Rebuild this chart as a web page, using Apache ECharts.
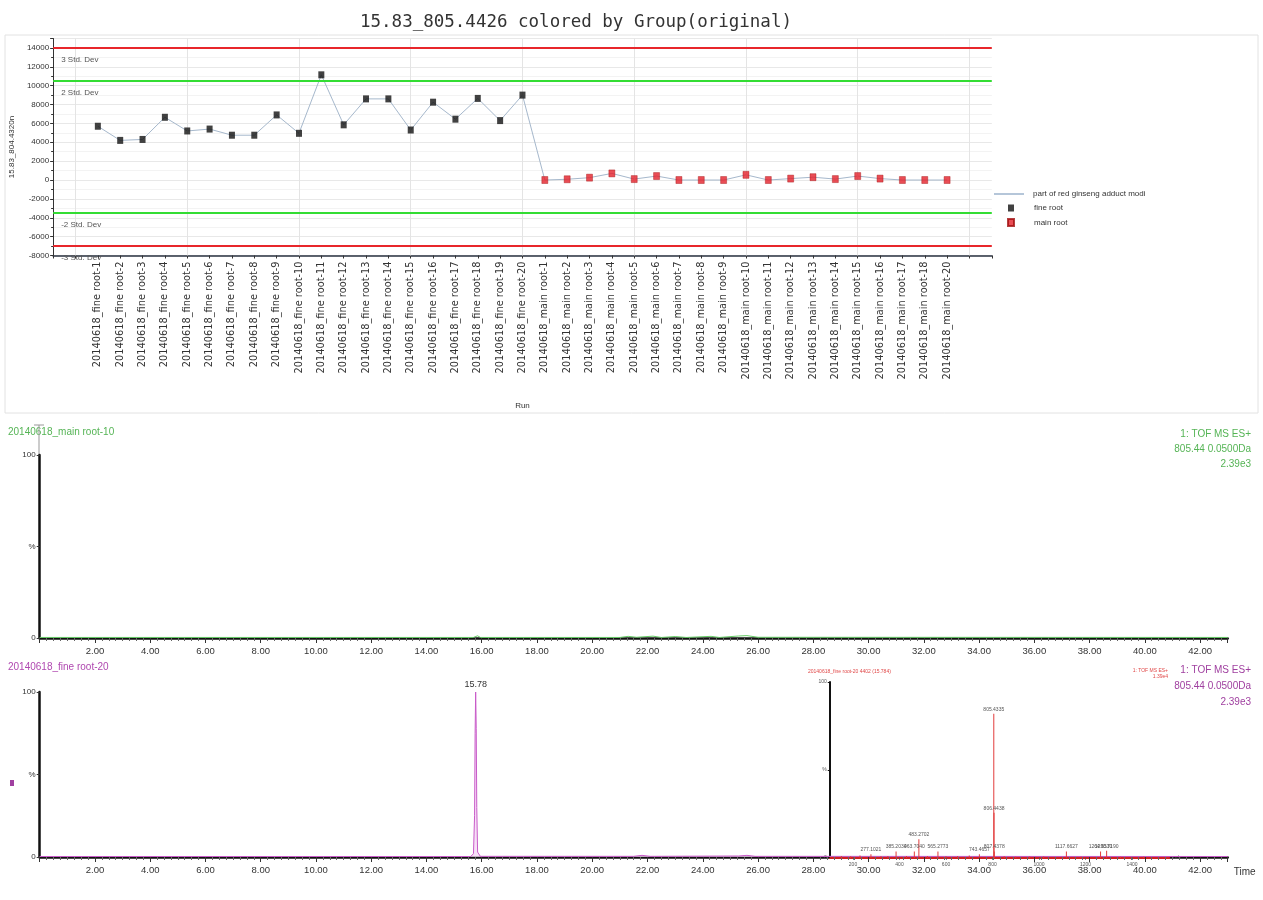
<!DOCTYPE html>
<html><head><meta charset="utf-8">
<script src="https://cdn.jsdelivr.net/npm/echarts@6/dist/echarts.min.js"></script>
<style>html,body{margin:0;padding:0;background:#fff}#c{width:1263px;height:900px}</style>
</head><body><div id="c"></div>
<script>
// ---------- data ----------
const runLabels = [
  "20140618_fine root-1","20140618_fine root-2","20140618_fine root-3","20140618_fine root-4","20140618_fine root-5",
  "20140618_fine root-6","20140618_fine root-7","20140618_fine root-8","20140618_fine root-9","20140618_fine root-10",
  "20140618_fine root-11","20140618_fine root-12","20140618_fine root-13","20140618_fine root-14","20140618_fine root-15",
  "20140618_fine root-16","20140618_fine root-17","20140618_fine root-18","20140618_fine root-19","20140618_fine root-20",
  "20140618_main root-1","20140618_main root-2","20140618_main root-3","20140618_main root-4","20140618_main root-5",
  "20140618_main root-6","20140618_main root-7","20140618_main root-8","20140618_main root-9","20140618_main root-10",
  "20140618_main root-11","20140618_main root-12","20140618_main root-13","20140618_main root-14","20140618_main root-15",
  "20140618_main root-16","20140618_main root-17","20140618_main root-18","20140618_main root-20"
];
const fineRootValues = [5700, 4200, 4300, 6650, 5200, 5400, 4750, 4750, 6900, 4950,
                        11150, 5850, 8600, 8600, 5300, 8250, 6450, 8650, 6300, 9000];
const mainRootValues = [0, 80, 250, 700, 100, 420, 0, 0, 0, 550,
                        0, 150, 300, 100, 420, 150, 0, 0, 0];
const stdDevValues = [14000, 10500, -3500, -7000];
const stdDevNames  = ["3 Std. Dev", "2 Std. Dev", "-2 Std. Dev", "-3 Std. Dev"];
const runGridMarks = [-1, 4, 9, 14, 19, 24, 29, 34, 39];

// chromatogram 20140618_main root-10 (time min, % intensity)
const mainRoot10Time      = [0, 15.7, 15.85, 15.95, 21.0, 21.3, 21.6, 22.2, 22.5, 23.0, 23.4, 24.3, 24.6, 25.3, 25.6, 26.0, 43];
const mainRoot10Intensity = [0.3, 0.3, 1.2, 0.3, 0.3, 0.9, 0.4, 1.0, 0.3, 0.8, 0.3, 0.9, 0.3, 1.1, 1.3, 0.4, 0.3];
// chromatogram 20140618_fine root-20
const fineRoot20Time      = [0, 15.6, 15.70, 15.74, 15.76, 15.78, 15.80, 15.82, 15.85, 15.95, 21.5, 21.8, 22.1, 25.3, 25.6, 25.9, 43];
const fineRoot20Intensity = [0.3, 0.3, 2, 25, 75, 100, 78, 30, 3, 0.4, 0.4, 1.0, 0.4, 0.6, 1.0, 0.4, 0.3];
// inset mass spectrum (m/z, % intensity)
const spectrumMz = [150, 190, 230, 277.1021, 320, 350, 385.2030, 430, 463.7040, 483.2702, 520, 565.2773, 600, 650, 700,
                    743.4657, 805.4335, 806.4438, 807.4378, 850, 900, 960, 1020, 1117.6627, 1180, 1264.5530, 1290.7190, 1350, 1450];
const spectrumIntensity = [1.0, 0.8, 1.2, 2.0, 0.8, 1.0, 3.5, 1.0, 3.5, 10.5, 1.0, 3.5, 0.8, 1.0, 1.2,
                    2.0, 82, 25.6, 3.5, 0.8, 0.6, 0.7, 0.7, 3.5, 0.6, 3.5, 4.0, 0.5, 0.5];
const spectrumLabelled = [277.1021, 385.2030, 463.7040, 483.2702, 565.2773, 743.4657, 805.4335, 806.4438, 807.4378, 1117.6627, 1264.5530, 1290.7190];

// ---------- build ----------
const FONT = "'Liberation Sans', Arial, sans-serif";
const nFine = fineRootValues.length;
const lineData = fineRootValues.concat(mainRootValues).map((v, i) => [i, v]);
const fineData = fineRootValues.map((v, i) => [i, v]);
const mainData = mainRootValues.map((v, i) => [i + nFine, v]);
const stdColors = ['#e8262b', '#33dd33', '#33dd33', '#e8262b'];
const markData = stdDevValues.map((v, i) => ({
  yAxis: v, name: stdDevNames[i],
  lineStyle: {color: stdColors[i], width: 2, type: 'solid'},
  label: {show: true, position: 'insideStartBottom', formatter: '{b}', fontSize: 8, color: '#555', fontFamily: FONT, distance: 8}
}));
const gridMarkData = runGridMarks.map(x => ({
  xAxis: x, lineStyle: {color: '#e4e4e4', width: 1, type: 'solid'}, label: {show: false}
}));

const chrom1 = mainRoot10Time.map((t, i) => [t, mainRoot10Intensity[i]]);
const peakMax = Math.max(...fineRoot20Intensity);
const chrom2 = fineRoot20Time.map((t, i) => {
  const v = fineRoot20Intensity[i];
  if (v === peakMax) {
    return {value: [t, v], label: {show: true, position: 'top', distance: 3, fontSize: 9, color: '#333', fontFamily: FONT,
      formatter: p => p.value[0].toFixed(2)}};
  }
  return [t, v];
});
const spec = spectrumMz.map((m, i) => {
  const item = {value: [m, spectrumIntensity[i]]};
  if (spectrumLabelled.includes(m)) {
    item.label = {show: true, position: 'top', distance: 2, fontSize: 5, color: '#555', fontFamily: FONT,
      formatter: p => p.value[0].toFixed(4)};
  }
  return item;
});

const chromX = (gi, extra) => Object.assign({
  gridIndex: gi, type: 'value', min: 0, max: 43, interval: 2,
  axisLine: {show: true, onZero: false, lineStyle: {color: '#111', width: 2.5}},
  axisTick: {show: true, length: 5, lineStyle: {color: '#333'}},
  minorTick: {show: true, splitNumber: 8, length: 3, lineStyle: {color: '#666'}},
  axisLabel: {fontSize: 9.5, color: '#333', fontFamily: FONT, margin: 8, showMinLabel: false, showMaxLabel: false,
    formatter: v => v.toFixed(2)},
  splitLine: {show: false}
}, extra || {});
const chromY = (gi) => ({
  gridIndex: gi, type: 'value', min: 0, max: 100, interval: 50,
  axisLine: {show: true, onZero: false, lineStyle: {color: '#111', width: 2.5}},
  axisTick: {show: true, length: 3, lineStyle: {color: '#333'}},
  axisLabel: {fontSize: 8, color: '#333', fontFamily: FONT, margin: 4, formatter: v => v === 50 ? '%' : String(v)},
  splitLine: {show: false}
});

const option = {
  animation: false,
  backgroundColor: '#fff',
  textStyle: {fontFamily: FONT},
  title: {
    text: '15.83_805.4426 colored by Group(original)', left: 355, top: 8,
    textStyle: {fontFamily: "'DejaVu Sans Mono', monospace", fontSize: 17.5, fontWeight: 'normal', color: '#333'}
  },
  legend: [
    {data: [{name: 'part of red ginseng adduct modi', icon: 'rect'}], left: 994, top: 190, padding: 0,
     itemWidth: 30, itemHeight: 1.5,
     selectedMode: false, textStyle: {fontSize: 8, color: '#333', fontFamily: FONT, padding: [0, 0, 0, 4]}},
    {data: ['fine root', 'main root'], left: 1007, top: 204, padding: 0, orient: 'vertical', itemWidth: 6, itemHeight: 7, itemGap: 6,
     icon: 'rect', selectedMode: false, textStyle: {fontSize: 8, color: '#333', fontFamily: FONT, padding: [0, 0, 0, 15]}}
  ],
  grid: [
    {left: 51, top: 38.5, width: 940.8, height: 217},
    {left: 39.7, top: 455, width: 1188, height: 183},
    {left: 39.7, top: 692, width: 1188, height: 165},
    {left: 829.75, top: 682, width: 339.5, height: 175.7}
  ],
  xAxis: [
    {gridIndex: 0, type: 'value', min: -2, max: 40, interval: 1,
     axisLine: {onZero: false, lineStyle: {color: '#2a3240', width: 1.5}},
     axisTick: {length: 3, lineStyle: {color: '#333'}},
     axisLabel: {rotate: 90, fontSize: 9.8, color: '#333', fontFamily: "'DejaVu Sans', sans-serif", margin: 6,
       formatter: v => runLabels[v] || ''},
     splitLine: {show: false},
     name: 'Run', nameLocation: 'middle', nameGap: 146, nameTextStyle: {fontSize: 8, color: '#333'}},
    chromX(1),
    chromX(2, {name: 'Time', nameLocation: 'end', nameGap: 6,
      nameTextStyle: {fontSize: 10, color: '#333', verticalAlign: 'top', padding: [10, 0, 0, 0]}}),
    {gridIndex: 3, type: 'value', min: 100, max: 1560, splitNumber: 7,
     axisLine: {onZero: false, lineStyle: {color: '#d02020', width: 2}},
     axisTick: {length: 2, lineStyle: {color: '#555'}},
     axisLabel: {fontSize: 5, color: '#555', margin: 4, showMinLabel: false, showMaxLabel: false, formatter: v => String(v)},
     splitLine: {show: false},
     name: 'm/z', nameGap: 4, nameTextStyle: {fontSize: 5, color: '#555'}}
  ],
  yAxis: [
    {gridIndex: 0, type: 'value', min: -8000, max: 15000, interval: 2000,
     axisLine: {show: true, onZero: false, lineStyle: {color: '#333'}},
     axisTick: {show: true, length: 3},
     minorTick: {show: true, splitNumber: 2, length: 2},
     axisLabel: {fontSize: 8, color: '#333', margin: 4, showMaxLabel: false, formatter: v => String(v)},
     splitLine: {show: true, lineStyle: {color: '#e8e8e8'}},
     minorSplitLine: {show: true, lineStyle: {color: '#f3f3f3'}},
     name: '15.83_804.4320n', nameLocation: 'middle', nameGap: 36, nameTextStyle: {fontSize: 8, color: '#333'}},
    chromY(1),
    chromY(2),
    {gridIndex: 3, type: 'value', min: 0, max: 100, interval: 50,
     axisLine: {show: true, onZero: false, lineStyle: {color: '#111', width: 2}},
     axisTick: {show: true, length: 2},
     axisLabel: {fontSize: 5, color: '#555', margin: 3, formatter: v => v === 50 ? '%' : String(v)},
     splitLine: {show: false}}
  ],
  series: [
    {name: 'run grid', type: 'line', xAxisIndex: 0, yAxisIndex: 0, data: [], z: 1,
     markLine: {silent: true, symbol: 'none', animation: false, data: gridMarkData}},
    {name: 'part of red ginseng adduct modi', type: 'line', xAxisIndex: 0, yAxisIndex: 0, data: lineData,
     symbol: 'none', color: '#9db3cc', lineStyle: {color: '#a6b8cc', width: 1}, z: 2,
     markLine: {silent: true, symbol: 'none', animation: false, data: markData}},
    {name: 'fine root', type: 'scatter', xAxisIndex: 0, yAxisIndex: 0, data: fineData,
     symbol: 'rect', symbolSize: [6, 7], itemStyle: {color: '#111'}, z: 10},
    {name: 'main root', type: 'scatter', xAxisIndex: 0, yAxisIndex: 0, data: mainData,
     symbol: 'rect', symbolSize: [6, 7], itemStyle: {color: '#e4202a', borderColor: '#a01010', borderWidth: 0.5}, z: 10},
    {name: 'main root-10 chrom', type: 'line', xAxisIndex: 1, yAxisIndex: 1, data: chrom1, symbol: 'none',
     lineStyle: {color: '#66cc66', width: 1}, z: 3},
    {name: 'fine root-20 chrom', type: 'line', xAxisIndex: 2, yAxisIndex: 2, data: chrom2,
     symbol: 'circle', symbolSize: 0.1, showSymbol: true, showAllSymbol: true,
     itemStyle: {color: '#c85ac8'},
     lineStyle: {color: '#c85ac8', width: 1}, areaStyle: {color: '#f4d2f4'}, z: 3},
    {name: 'spectrum', type: 'bar', xAxisIndex: 3, yAxisIndex: 3, data: spec, barWidth: 1,
     itemStyle: {color: '#e23b3b'}, z: 4}
  ],
  graphic: [
    {type: 'rect', shape: {x: 5, y: 35, width: 1253, height: 378}, style: {fill: 'none', stroke: '#e2e2e2', lineWidth: 1}, silent: true, z: -1},
    {type: 'text', x: 8, y: 427, style: {text: '20140618_main root-10', fill: '#55b455', font: '10px ' + FONT}},
    {type: 'text', x: 1251, y: 427, style: {text: '1: TOF MS ES+\n805.44 0.0500Da\n2.39e3', fill: '#55b455', font: '10px ' + FONT, align: 'right', lineHeight: 15}},
    {type: 'line', shape: {x1: 39, y1: 425, x2: 39, y2: 455}, style: {stroke: '#999', lineWidth: 1}},
    {type: 'line', shape: {x1: 34, y1: 425, x2: 44, y2: 425}, style: {stroke: '#999', lineWidth: 1}},
    {type: 'text', x: 8, y: 662, style: {text: '20140618_fine root-20', fill: '#b048b0', font: '10px ' + FONT}},
    {type: 'text', x: 1251, y: 662, style: {text: '1: TOF MS ES+\n805.44 0.0500Da\n2.39e3', fill: '#a040a0', font: '10px ' + FONT, align: 'right', lineHeight: 16}},
    {type: 'rect', shape: {x: 10, y: 780, width: 4, height: 6}, style: {fill: '#a040a0'}},
    {type: 'text', x: 808, y: 669, style: {text: '20140618_fine root-20 4402 (15.784)', fill: '#e04848', font: '5px ' + FONT}},
    {type: 'text', x: 1168, y: 668, style: {text: '1: TOF MS ES+\n1.39e4', fill: '#e04848', font: '5px ' + FONT, align: 'right', lineHeight: 6}}
  ]
};
const chart = echarts.init(document.getElementById('c'));
chart.setOption(option);
</script>
</body></html>
